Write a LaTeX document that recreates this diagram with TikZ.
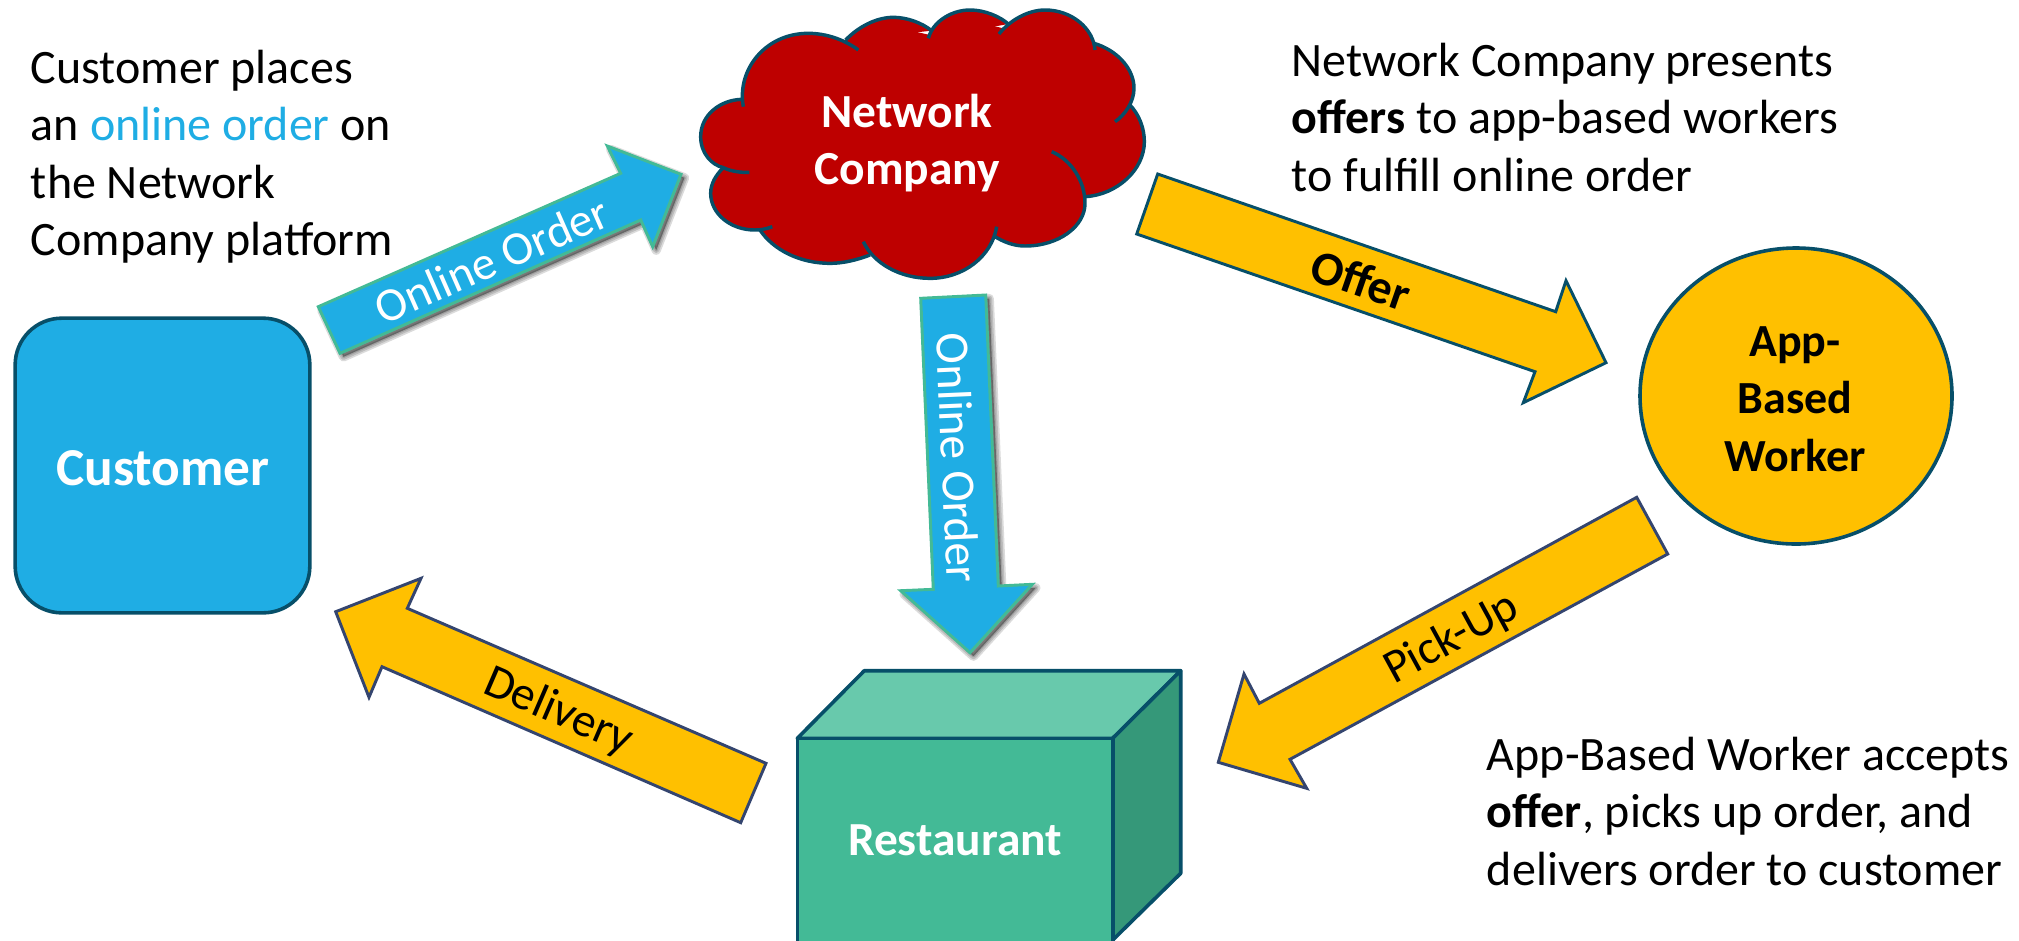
\documentclass[tikz,border=0pt]{standalone}
\usepackage{fontspec}
\setmainfont{Carlito}
\usetikzlibrary{shapes.geometric}
\definecolor{skyfill}{HTML}{1FADE4}
\definecolor{ambfill}{HTML}{FFC000}
\definecolor{redfill}{HTML}{BE0000}
\definecolor{tealfront}{HTML}{43BA96}
\definecolor{tealtop}{HTML}{68C9AC}
\definecolor{tealside}{HTML}{359879}
\definecolor{deepline}{HTML}{074F69}
\definecolor{navyline}{HTML}{34456F}
\newcommand{\fs}[1]{\fontsize{#1}{43.1pt}\selectfont}
\tikzset{
  x=0.75pt,y=-0.75pt,
  outlined/.style={draw=deepline,line width=2.7pt,line join=round},
  bodytext/.style={inner sep=0pt,align=left,anchor=north west,font=\fs{36pt},text=black},
  skyarrow/.style={fill=skyfill,draw=tealfront,line width=2.2pt,line join=miter},
  amboffer/.style={fill=ambfill,draw=deepline,line width=2.2pt,line join=miter},
  ambnavy/.style={fill=ambfill,draw=navyline,line width=2.2pt,line join=miter},
  arrowlabel/.style={inner sep=0pt,anchor=center,font=\fs{35.6pt}},
  titlelabel/.style={inner sep=0pt,align=center,font=\fs{35.6pt}\bfseries},
  shadowlayer/.style={fill=black,draw=black,fill opacity=.14,draw opacity=.14,line join=round,shift={(3.5,3.5)}},
  cloudfill/.style={fill=redfill},
  cloudline/.style={draw=deepline,line width=2.6pt,line cap=butt,line join=round},
}
\def\arrowA{(318.3,306.7)--(620.7,173.3)--(607.3,146)--(681,174.3)--(652.7,246.7)--(640.7,220)--(340,353.3)--cycle}
\def\arrowB{(920.7,298.3)--(985.7,295)--(998.3,586)--(1032.3,584.3)--(970,652.7)--(900.7,590.7)--(933.3,589.3)--cycle}
\newcommand{\lobes}[1]{%
  \path[#1] (185,298) .. controls (120,300) and (62,345) .. (62,410) .. controls (62,460) and (95,495) .. (130,503) .. controls (155,515) and (185,518) .. (208,517);
  \path[#1] (190,320) .. controls (170,210) and (255,100) .. (385,100) .. controls (440,100) and (495,120) .. (535,150);
  \path[#1] (497,120) .. controls (535,80) and (590,52) .. (640,52) .. controls (680,52) and (725,68) .. (755,92);
  \path[#1] (745,115) .. controls (760,60) and (820,30) .. (870,30) .. controls (915,30) and (960,50) .. (985,72);
  \path[#1] (957,102) .. controls (990,60) and (1045,30) .. (1095,30) .. controls (1175,30) and (1240,85) .. (1245,150);
  \path[#1] (1242,130) .. controls (1310,150) and (1362,205) .. (1362,265) .. controls (1362,305) and (1335,345) .. (1305,365);
  \path[#1] (1350,315) .. controls (1378,345) and (1393,385) .. (1393,425) .. controls (1393,510) and (1310,585) .. (1215,590);
  \path[#1] (1115,455) .. controls (1175,480) and (1215,545) .. (1215,610) .. controls (1215,680) and (1135,738) .. (1035,738) .. controls (1000,738) and (970,725) .. (945,710);
  \path[#1] (950,680) .. controls (935,770) and (850,835) .. (750,835) .. controls (660,835) and (580,790) .. (550,725);
  \path[#1] (570,765) .. controls (530,780) and (490,790) .. (450,790) .. controls (360,790) and (280,750) .. (240,690);
  \path[#1] (277,680) .. controls (255,688) and (240,690) .. (225,690) .. controls (150,690) and (92,640) .. (92,580) .. controls (92,550) and (108,525) .. (130,503);
}
\begin{document}
\begin{tikzpicture}
\useasboundingbox (0,0) rectangle (2019,940);
% cloud
\begin{scope}[x=0.25pt,y=-0.25pt,shift={(2040,0)}]
  \lobes{cloudfill}
  \fill[redfill] (185,298)--(370,130)--(497,120)--(640,80)--(750,105)--(870,60)--(970,85)--(1095,60)--(1240,135)--(1330,260)--(1350,315)--(1370,420)--(1215,590)--(1040,710)--(945,710)--(750,800)--(570,765)--(450,760)--(240,690)--(130,600)--(130,503)--(90,410)--cycle;
  \lobes{cloudline}
\end{scope}
\node[titlelabel,text=white] (network) at (907,143) {Network\\Company};
% customer
\node[outlined,fill=skyfill,rectangle,rounded corners=35pt,minimum width=221pt,minimum height=221pt,inner sep=0pt] (customer) at (162.5,465.5) {};
\node[titlelabel,text=white,font=\fs{40pt}\bfseries] (customertext) at (163,468) {Customer};
% worker
\node[outlined,fill=ambfill,ellipse,minimum width=234pt,minimum height=222pt,inner sep=0pt] (worker) at (1796,396) {};
\node[titlelabel,text=black,font=\fs{34.5pt}\bfseries] (workertext) at (1795,399) {App-\\Based\\Worker};
% restaurant box
\path[outlined,fill=tealtop] (797.3,738.3)--(864.3,670.7)--(1180.7,670.7)--(1112.7,738.3)--cycle;
\path[outlined,fill=tealside] (1112.7,738.3)--(1180.7,670.7)--(1180.7,873.3)--(1112.7,940)--cycle;
\path[outlined,fill=tealfront] (797.3,738.3)--(1112.7,738.3)--(1112.7,945)--(797.3,945)--cycle;
\node[titlelabel,text=white] (restaurant) at (955,840) {Restaurant};
% blue arrows with soft shadow
\foreach \wid in {7,4.5,2} {
  \path[shadowlayer,line width=\wid pt] \arrowA;
  \path[shadowlayer,line width=\wid pt] \arrowB;
}
\path[skyarrow] \arrowA;
\path[skyarrow] \arrowB;
\node[arrowlabel,text=white,rotate=23.8] (orderone) at (491.7,260) {Online Order};
\node[arrowlabel,text=white,rotate=-87.5] (ordertwo) at (958,458) {Online Order};
% amber arrows
\path[amboffer] (1157.7,174)--(1555.7,311.7)--(1566,280.7)--(1606,362.7)--(1523.3,402.7)--(1535,371.7)--(1136.7,234)--cycle;
\node[arrowlabel,rotate=-19.1,font=\fs{36pt}\bfseries] (offer) at (1361,280) {Offer};
\path[ambnavy] (1636.7,497.3)--(1259.3,703.3)--(1244,674)--(1218.3,762.3)--(1306.7,788.3)--(1290,759.3)--(1667.7,554)--cycle;
\node[arrowlabel,rotate=28.6] (pickup) at (1452,639) {Pick-Up};
\path[ambnavy] (335.7,611.7)--(421,578.3)--(407.3,608.3)--(766,763.3)--(740.7,822.7)--(382,666.7)--(369,697.3)--cycle;
\node[arrowlabel,rotate=-23.4] (delivery) at (558.3,711.7) {Delivery};
% captions
\node[bodytext] (captionleft) at (30.7,49.5) {Customer places\\an \textcolor{skyfill}{online order} on\\the Network\\Company platform};
\node[bodytext] (captiontop) at (1291.7,42.5) {Network Company presents\\\textbf{offers} to app-based workers\\to fulfill online order};
\node[bodytext] (captionright) at (1486.7,736.5) {App-Based Worker accepts\\\textbf{offer}, picks up order, and\\delivers order to customer};
\end{tikzpicture}
\end{document}
